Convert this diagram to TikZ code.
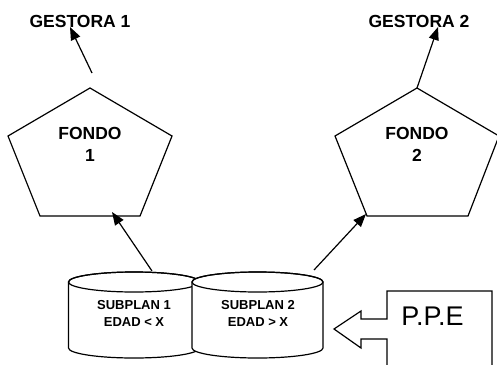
\documentclass[tikz,border=0pt]{standalone}
\usepackage{fontspec}
\setmainfont{Liberation Sans}
\usetikzlibrary{arrows.meta}
\begin{document}
\begin{tikzpicture}[x=1pt,y=-1pt,line width=1.2pt,line join=miter,
  big/.style={font=\fontsize{17.5}{22}\selectfont\bfseries,inner sep=0pt,align=center},
  small/.style={font=\fontsize{13}{17}\selectfont\bfseries,inner sep=0pt,align=center},
  arr/.style={-{Triangle[length=13pt,width=10pt]}},
  shapeline/.style={draw=black,fill=white}]
\useasboundingbox (0,0) rectangle (497,364);

% labels
\node[big,anchor=base] (g1) at (80,27) {GESTORA 1};
\node[big,anchor=base] (g2) at (419,27) {GESTORA 2};
\coordinate (g1tip) at (70,27);
\coordinate (g2tip) at (438,27);

% pentagon 1
\coordinate (p1t) at (90,88);
\coordinate (p1l) at (8,136);
\coordinate (p1r) at (172,136);
\coordinate (p1bl) at (40,216);
\coordinate (p1br) at (140,216);
\draw (p1t) -- (p1r) -- (p1br) -- (p1bl) -- (p1l) -- cycle;
\node[big] (f1) at (90,144) {FONDO\\1};

% pentagon 2
\coordinate (p2t) at (417,88);
\coordinate (p2l) at (335,136);
\coordinate (p2r) at (499,136);
\coordinate (p2bl) at (367,216);
\coordinate (p2br) at (468,216);
\draw (p2t) -- (p2r) -- (p2br) -- (p2bl) -- (p2l) -- cycle;
\node[big] (f2) at (417,144) {FONDO\\2};

% cylinder 1
\draw[shapeline] (68.5,282) -- (68.5,348) arc[start angle=180,end angle=360,x radius=65.5pt,y radius=10pt]
  -- (199.5,282) arc[start angle=0,end angle=180,x radius=65.5pt,y radius=10pt] -- cycle;
\draw (134,282) ellipse[x radius=65.5pt,y radius=10pt];
\node[small] (s1) at (134,313) {SUBPLAN 1\\EDAD < X};

% cylinder 2
\draw[shapeline] (192,282) -- (192,348) arc[start angle=180,end angle=360,x radius=65.5pt,y radius=10pt]
  -- (323,282) arc[start angle=0,end angle=180,x radius=65.5pt,y radius=10pt] -- cycle;
\draw (257.5,282) ellipse[x radius=65.5pt,y radius=10pt];
\node[small] (s2) at (258,313) {SUBPLAN 2\\EDAD > X};

% connectors
\coordinate (c1top) at (152,271);
\coordinate (c2top) at (314,270);
\coordinate (p1in) at (112,212);
\coordinate (p2in) at (366,214);
\coordinate (p1out) at (92,73);
\draw[arr] (c1top) -- (p1in);
\draw[arr] (c2top) -- (p2in);
\draw[arr] (p1out) -- (g1tip);
\draw[arr] (p2t) -- (g2tip);

% P.P.E block arrow
\coordinate (ppetip) at (334,329);
\draw (387,372) -- (387,339) -- (361,339) -- (361,348) -- (ppetip) -- (361,311) -- (361,319)
  -- (387,319) -- (387,291) -- (492,291) -- (492,372);
\node[font=\fontsize{27}{30}\selectfont,inner sep=0pt,anchor=base] (ppe) at (432.5,325) {P.P.E};
\end{tikzpicture}
\end{document}
